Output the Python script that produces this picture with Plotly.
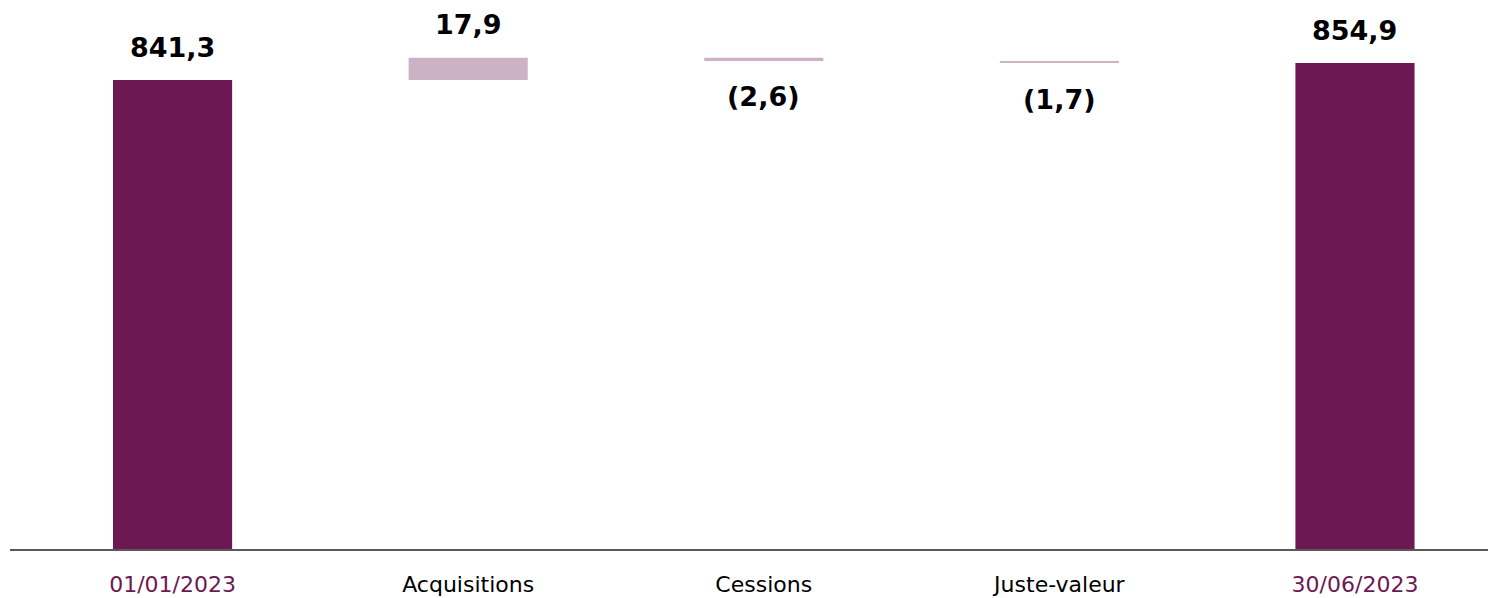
import plotly.graph_objects as go

categories = ["01/01/2023", "Acquisitions", "Cessions", "Juste-valeur", "30/06/2023"]
values = [841.3, 17.9, -2.6, -1.7, 854.9]
measures = ["absolute", "relative", "relative", "relative", "total"]
labels = ["841,3", "17,9", "(2,6)", "(1,7)", "854,9"]
tick_colors = ["#6D1852", "#000000", "#000000", "#000000", "#6D1852"]

DARK = "#6D1852"
LIGHT = "#CDB2C5"

# compute waterfall bases from data
bases, heights, colors, ends = [], [], [], []
running = 0.0
for v, m in zip(values, measures):
    if m in ("absolute", "total"):
        bases.append(0.0)
        heights.append(v)
        colors.append(DARK)
        running = v
        ends.append((v, 1))
    else:
        bases.append(running)
        heights.append(v)
        colors.append(LIGHT)
        new = running + v
        ends.append((max(running, new) if v >= 0 else min(running, new), 1 if v >= 0 else -1))
        running = new

x_idx = list(range(len(categories)))

fig = go.Figure()
fig.add_trace(go.Bar(
    x=x_idx, y=heights, base=bases, marker_color=colors, marker_line_width=0,
    width=0.403, hoverinfo="skip",
))

for i, (lab, (yv, sgn)) in enumerate(zip(labels, ends)):
    fig.add_annotation(
        x=i, y=yv, text=lab, showarrow=False, yanchor="middle",
        yshift=33 if sgn > 0 else -36,
        font=dict(family="DejaVu Sans", size=27, color="#000000", weight="bold"),
        xanchor="center",
    )

ticktext = [f"<span style='color:{c}'>{t}</span>" for t, c in zip(categories, tick_colors)]

fig.update_layout(
    width=1488, height=598,
    margin=dict(l=10, r=0, t=0, b=49),
    paper_bgcolor="white", plot_bgcolor="white",
    showlegend=False,
    xaxis=dict(
        tickmode="array", tickvals=x_idx, ticktext=ticktext,
        range=[-0.55, 4.45], showgrid=False, zeroline=False,
        showline=True, linecolor="#595959", linewidth=1.5,
        ticks="", ticklabelstandoff=15,
        tickfont=dict(family="DejaVu Sans", size=22, color="#000000"),
        fixedrange=True,
    ),
    yaxis=dict(
        range=[466.1, 905.3], visible=False, showgrid=False, zeroline=False,
        fixedrange=True,
    ),
)

fig.write_html(
    "out.html",
    config={"displayModeBar": False},
    post_script="document.body.style.margin='0';document.body.style.overflow='hidden';",
)
